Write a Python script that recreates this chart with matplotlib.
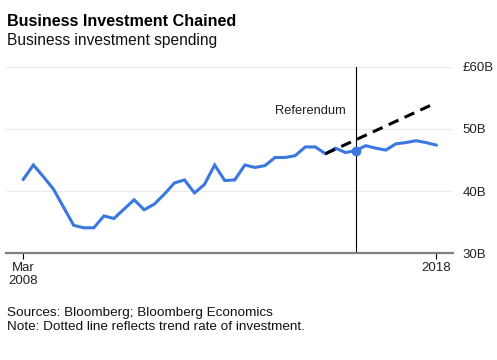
import matplotlib
matplotlib.use("Agg")
from matplotlib import pyplot as plt

plt.rcParams['font.family'] = ['Liberation Sans', 'DejaVu Sans']

# Quarterly business investment, Q1 2008 .. Q2 2018 (GBP billions)
inversion = [41.9, 44.2, 42.3, 40.3, 37.4, 34.5, 34.1, 34.1, 36.0, 35.6,
             37.1, 38.6, 37.0, 37.9, 39.5, 41.3, 41.8, 39.7, 41.1, 44.2,
             41.7, 41.8, 44.2, 43.8, 44.1, 45.4, 45.4, 45.7, 47.1, 47.1,
             46.0, 46.9, 46.2, 46.5, 47.3, 46.9, 46.6, 47.6, 47.8, 48.1,
             47.8, 47.4]
trimestres = list(range(len(inversion)))

# Trend line (dashed)
tendencia_x = [30, 41]
tendencia_y = [46.0, 54.2]

referendum = 33  # Q2 2016

y_ticks = [30, 40, 50, 60]
y_labels = ["30B", "40B", "50B", "£60B"]
x_ticks = [0, 41]
x_labels = ["Mar\n2008", "2018"]

fig = plt.figure(figsize=(4.97, 3.6), dpi=100)
ax = fig.add_axes([6 / 497, 1 - 253.3 / 360, (453 - 6) / 497, (253.3 - 66.7) / 360])

azul = '#3a78e0'

for v in [40, 50, 60]:
    ax.axhline(v, color='#ebebeb', lw=0.8, zorder=0)

ax.axvline(referendum, color='black', lw=0.8, zorder=2)
ax.plot(trimestres, inversion, color=azul, lw=2.2, solid_joinstyle='miter', zorder=3)
ax.plot(tendencia_x, tendencia_y, color='black', lw=2.2, linestyle=(0, (3.5, 2.2)), zorder=4)
ax.plot([referendum], [inversion[referendum]], 'o', color=azul, ms=6, zorder=5)

ax.text(32, 52.8, "Referendum", ha='right', va='center', fontsize=9.3, color='#222222')

ax.set_xlim(-1.72, 42.67)
ax.set_ylim(30, 60)

ax.yaxis.tick_right()
ax.set_yticks(y_ticks)
ax.set_yticklabels(y_labels)
ax.tick_params(axis='y', length=0, pad=7, labelsize=9.5, labelcolor='#222222')

ax.set_xticks(x_ticks)
ax.set_xticklabels(x_labels)
ax.tick_params(axis='x', length=4, width=0.8, color='black', pad=2,
               labelsize=9.5, labelcolor='#222222')

for s in ['top', 'left', 'right']:
    ax.spines[s].set_visible(False)
ax.spines['bottom'].set_color('#7f7f7f')
ax.spines['bottom'].set_linewidth(1.6)

fig.text(7 / 497, 1 - 26 / 360, "Business Investment Chained", fontsize=11.6,
         fontweight='bold', ha='left', va='baseline')
fig.text(7 / 497, 1 - 44.5 / 360, "Business investment spending", fontsize=11.2,
         ha='left', va='baseline', color='#111111')

fig.text(7 / 497, 1 - 312.7 / 360, "Sources: Bloomberg; Bloomberg Economics",
         fontsize=9.7, ha='left', va='center', color='#111111')
fig.text(7 / 497, 1 - 326.7 / 360, "Note: Dotted line reflects trend rate of investment.",
         fontsize=9.7, ha='left', va='center', color='#111111')

fig.savefig("out.png", dpi=100)
